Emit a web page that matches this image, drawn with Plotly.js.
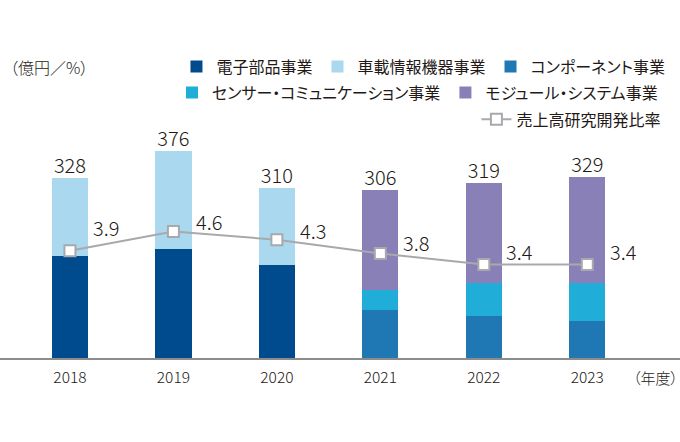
<!DOCTYPE html>
<html><head><meta charset="utf-8">
<script src="https://cdn.plot.ly/plotly-3.0.1.min.js"></script>
<style>html,body{margin:0;padding:0;background:#fff} svg text{font-feature-settings:"palt" 1;}</style>
</head><body><div id="chart" style="width:680px;height:442px"></div>
<script>
const years = ['2018','2019','2020','2021','2022','2023'];
const electronic = [186,199,170,null,null,null];
const invehicle = [142,177,140,null,null,null];
const component = [null,null,null,87,76,67];
const sensor = [null,null,null,36,61,70];
const moduleSys = [null,null,null,183,182,192];
const totals = [328,376,310,306,319,329];
const rdRatio = [3.9,4.6,4.3,3.8,3.4,3.4];
const rdLabels = ['3.9','4.6','4.3','3.8','3.4','3.4'];
const names = ['電子部品事業','車載情報機器事業','コンポーネント事業','センサー・コミュニケーション事業','モジュール・システム事業','売上高研究開発比率'];

const FONT = '"Noto Sans CJK JP", "Noto Sans", sans-serif';
const TXT = '#231815';
const colors = ['#004b8d','#a9d8ef','#1f78b4','#20aed8','#8880b6'];
const barW = 0.35;

function bar(y, i, lg){
  return {type:'bar', x:years, y:y, name:names[i], legend:lg,
    marker:{color:colors[i], line:{width:0}}, width:barW, hoverinfo:'skip'};
}
const traces = [
  bar(electronic,0,'legend'),
  bar(invehicle,1,'legend'),
  bar(component,2,'legend'),
  bar(sensor,3,'legend2'),
  bar(moduleSys,4,'legend2'),
  {type:'scatter', mode:'lines+markers', x:years, y:rdRatio, yaxis:'y2', name:names[5], legend:'legend3',
   line:{color:'#a7a9ac', width:2},
   marker:{symbol:'square', size:11, color:'#ffffff', line:{color:'#a7a9ac', width:2}}, hoverinfo:'skip'},
  {type:'scatter', mode:'text', x:years, y:totals, text:totals.map(String), textposition:'top center',
   textfont:{size:20, color:TXT, family:FONT, weight:300}, showlegend:false, hoverinfo:'skip', cliponaxis:false}
];

const ratioShift = [23,10,9,11,13,13];
const annotations = [];
years.forEach((yr,i)=>{
  annotations.push({x:i, y:rdRatio[i], xref:'x', yref:'y2', text:rdLabels[i], showarrow:false,
    xshift:36, yshift:ratioShift[i], font:{size:20, color:TXT, family:FONT, weight:300}});
});
annotations.push({x:0, y:1.322, xref:'paper', yref:'paper', text:'（億円／%）', showarrow:false,
  xanchor:'left', yanchor:'middle', xshift:8, font:{size:16, color:TXT, family:FONT, weight:300}});
annotations.push({x:1, y:-0.09, xref:'paper', yref:'paper', text:'（年度）', showarrow:false,
  xanchor:'right', yanchor:'middle', xshift:0, font:{size:15, color:TXT, family:FONT, weight:300}});

const legBase = {orientation:'h', xanchor:'right', yanchor:'middle', bgcolor:'rgba(0,0,0,0)',
  borderwidth:0, font:{size:16, color:TXT, family:FONT}, traceorder:'normal', itemclick:false, itemdoubleclick:false};

const hiddenAx = {showgrid:false, zeroline:false, showline:false, showticklabels:false, ticks:''};
const layout = {
  width:680, height:442,
  margin:{l:0, r:0, t:137.6, b:83.7, pad:0},
  paper_bgcolor:'#ffffff', plot_bgcolor:'#ffffff',
  barmode:'stack',
  font:{family:FONT, color:TXT},
  xaxis:{type:'category', range:[-0.676,5.896], showgrid:false, zeroline:false,
    showline:true, linecolor:'#8c8c8c', linewidth:1.5, ticks:'', ticklabelstandoff:5,
    tickfont:{size:15.5, color:TXT, family:FONT, weight:300}},
  yaxis:Object.assign({range:[0,400]}, hiddenAx),
  yaxis2:Object.assign({range:[0,8], overlaying:'y', side:'right'}, hiddenAx),
  showlegend:true,
  legend:Object.assign({}, legBase, {x:0.986, y:1.3244}),
  legend2:Object.assign({}, legBase, {x:0.975, y:1.2066}),
  legend3:Object.assign({}, legBase, {x:0.98, y:1.0843}),
  annotations:annotations
};
Plotly.newPlot('chart', traces, layout, {displayModeBar:false, staticPlot:true});
</script></body></html>
